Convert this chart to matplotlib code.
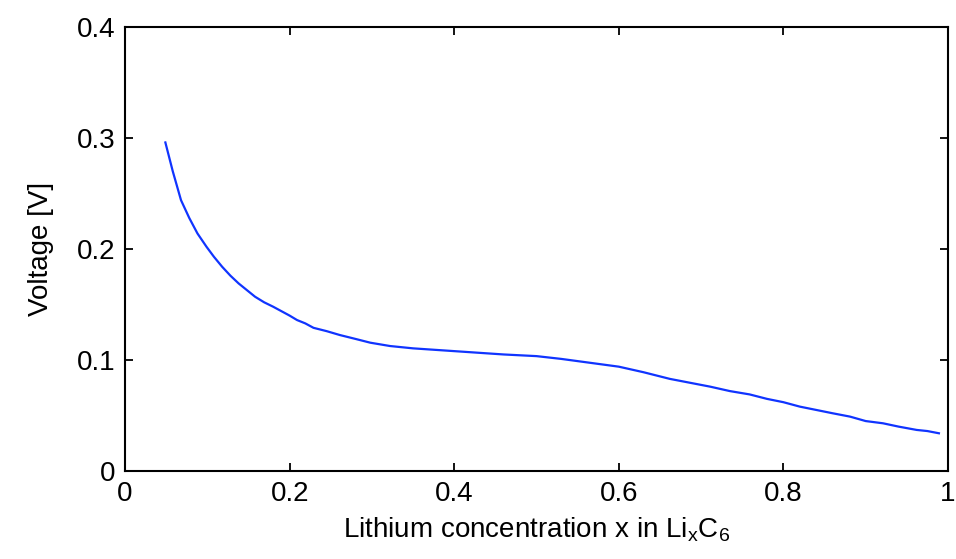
import matplotlib
matplotlib.use("Agg")
import matplotlib.pyplot as plt

# values
x_conc = [0.049, 0.058, 0.068, 0.078, 0.088, 0.099, 0.108, 0.118, 0.128, 0.138,
          0.148, 0.158, 0.169, 0.180, 0.190, 0.200, 0.209, 0.219, 0.229, 0.245,
          0.261, 0.280, 0.298, 0.322, 0.350, 0.380, 0.400, 0.430, 0.460, 0.500,
          0.530, 0.560, 0.600, 0.630, 0.662, 0.690, 0.711, 0.735, 0.759, 0.780,
          0.800, 0.820, 0.840, 0.860, 0.881, 0.900, 0.921, 0.940, 0.962, 0.975,
          0.989]
voltage = [0.296, 0.270, 0.244, 0.228, 0.214, 0.202, 0.193, 0.184, 0.176, 0.169,
           0.163, 0.157, 0.152, 0.148, 0.144, 0.140, 0.136, 0.133, 0.129, 0.126,
           0.1225, 0.119, 0.1156, 0.1126, 0.1105, 0.109, 0.108, 0.1065, 0.105, 0.1035,
           0.101, 0.098, 0.094, 0.089, 0.083, 0.079, 0.076, 0.072, 0.069, 0.065,
           0.062, 0.058, 0.055, 0.052, 0.049, 0.045, 0.043, 0.040, 0.037, 0.036,
           0.034]

x_ticks = [0, 0.2, 0.4, 0.6, 0.8, 1]
x_tick_labels = ["0", "0.2", "0.4", "0.6", "0.8", "1"]
y_ticks = [0, 0.1, 0.2, 0.3, 0.4]
y_tick_labels = ["0", "0.1", "0.2", "0.3", "0.4"]

plt.rcParams["font.family"] = ["Liberation Sans", "DejaVu Sans"]

fig = plt.figure(figsize=(9.56, 5.59), dpi=100)
ax = fig.add_axes([0.1308, 0.1574, 0.8608, 0.7943])

ax.plot(x_conc, voltage, color="#1034ff", linewidth=1.6)

ax.set_xlim(0, 1)
ax.set_ylim(0, 0.4)
ax.set_xticks(x_ticks)
ax.set_xticklabels(x_tick_labels)
ax.set_yticks(y_ticks)
ax.set_yticklabels(y_tick_labels)

ax.tick_params(direction="in", length=5.5, width=1.3, top=True, right=True,
               labelsize=20, pad=7)
for spine in ax.spines.values():
    spine.set_linewidth(1.5)

ax.set_xlabel(r"Lithium concentration x in Li$_\mathregular{x}$C$_\mathregular{6}$",
              fontsize=20, labelpad=6)
ax.set_ylabel("Voltage [V]", fontsize=20, labelpad=16)

fig.savefig("out.png", dpi=100)
